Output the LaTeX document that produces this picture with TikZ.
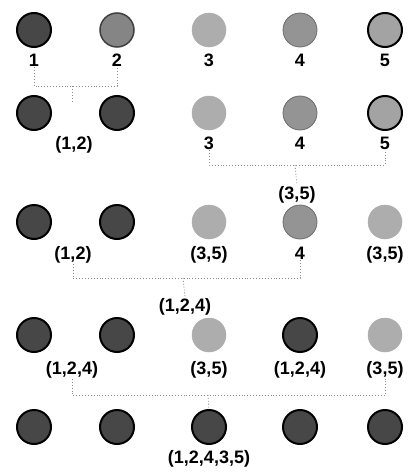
\documentclass[tikz,border=0pt]{standalone}
\usepackage{fontspec}
\setmainfont{Liberation Sans}
\begin{document}
\begin{tikzpicture}[x=1pt,y=-1pt,
  ball/.style={circle,minimum size=34pt,inner sep=0pt},
  dark/.style={ball,fill=black!72,draw=black,line width=2pt},
  midring/.style={ball,fill=black!48,draw=black!75,line width=1.5pt},
  light/.style={ball,fill=black!32,draw=black!32,line width=0.5pt},
  medlight/.style={ball,fill=black!42,draw=black!58,line width=0.8pt},
  lightring/.style={ball,fill=black!36,draw=black,line width=2pt},
  lab/.style={font=\bfseries\fontsize{18}{20}\selectfont,inner sep=1pt,anchor=base},
  link/.style={draw=black!45,dotted,line width=0.9pt}]
\useasboundingbox (0,0) rectangle (413,474);
% row 1
\node[dark] (a1) at (34,30) {};
\node[midring] (a2) at (117,30) {};
\node[light] (a3) at (209,30) {};
\node[medlight] (a4) at (300,30) {};
\node[lightring] (a5) at (385,30) {};
\node[lab] (la1) at (34,66) {1};
\node[lab] (la2) at (117,66) {2};
\node[lab] (la3) at (209,66) {3};
\node[lab] (la4) at (300,66) {4};
\node[lab] (la5) at (385,66) {5};
% row 2
\node[dark] (b1) at (34,113) {};
\node[dark] (b2) at (117,113) {};
\node[light] (b3) at (209,113) {};
\node[medlight] (b4) at (300,113) {};
\node[lightring] (b5) at (385,113) {};
\node[lab] (lb12) at (74,149) {(1,2)};
\node[lab] (lb3) at (209,149) {3};
\node[lab] (lb4) at (300,149) {4};
\node[lab] (lb5) at (385,149) {5};
\node[lab] (m35) at (297,199) {(3,5)};
% row 3
\node[dark] (c1) at (34,222) {};
\node[dark] (c2) at (117,222) {};
\node[light] (c3) at (209,222) {};
\node[medlight] (c4) at (300,222) {};
\node[light] (c5) at (385,222) {};
\node[lab] (lc12) at (73,259) {(1,2)};
\node[lab] (lc3) at (209,259) {(3,5)};
\node[lab] (lc4) at (300,259) {4};
\node[lab] (lc5) at (385,259) {(3,5)};
\node[lab] (m124) at (185,311) {(1,2,4)};
% row 4
\node[dark] (d1) at (34,335) {};
\node[dark] (d2) at (117,335) {};
\node[light] (d3) at (209,335) {};
\node[dark] (d4) at (300,335) {};
\node[light] (d5) at (385,335) {};
\node[lab] (ld12) at (72,374) {(1,2,4)};
\node[lab] (ld3) at (209,374) {(3,5)};
\node[lab] (ld4) at (300,374) {(1,2,4)};
\node[lab] (ld5) at (385,374) {(3,5)};
% row 5
\node[dark] (e1) at (34,427) {};
\node[dark] (e2) at (117,427) {};
\node[dark] (e3) at (209,427) {};
\node[dark] (e4) at (300,427) {};
\node[dark] (e5) at (385,427) {};
\node[lab] (le) at (209,463) {(1,2,4,3,5)};
% connectors
\coordinate (j1) at (72,86);
\coordinate (e12) at (72,101);
\path[link] (la1.south) |- (j1) -| (la2.south);
\path[link] (j1) -- (e12);
\coordinate (j2) at (295,165);
\path[link] (lb3.south) |- (j2) -| (lb5.south);
\path[link] (j2) -- (m35.north);
\coordinate (j3) at (183,278);
\path[link] (lc12.south) |- (j3) -| (lc4.south);
\path[link] (j3) -- (m124.north);
\coordinate (j4) at (208,395);
\path[link] (ld12.south) |- (j4) -| (ld5.south);
\path[link] (j4) -- (e3.north);
\end{tikzpicture}
\end{document}
